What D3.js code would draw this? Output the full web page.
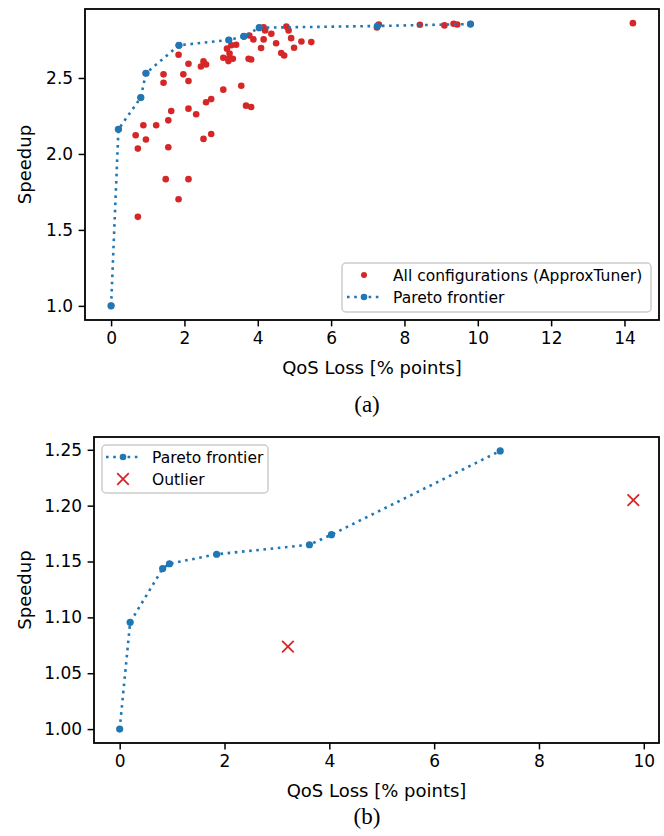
<!DOCTYPE html>
<html>
<head>
<meta charset="utf-8">
<script src="https://cdn.jsdelivr.net/npm/d3@7"></script>
<style>
  body { margin: 0; background: #fff; }
  svg { display: block; }
  .tick text { font-family: 'DejaVu Sans', sans-serif; font-size: 17px; fill: #000; }
  .tick line { stroke: #000; stroke-width: 1.5; }
</style>
</head>
<body>
<svg id="chart"></svg>
<script>
// (a) all configurations
const allLoss = [0, 0.20, 0.67, 0.73, 0.73, 0.88, 0.95, 1.23, 1.43, 1.43, 1.49, 1.56, 1.56, 1.64,
  1.84, 1.84, 1.97, 2.11, 2.11, 2.11, 2.11, 2.32, 2.45, 2.52, 2.52, 2.59, 2.59, 2.73, 2.73,
  3.06, 3.06, 3.16, 3.20, 3.20, 3.23, 3.32, 3.41, 3.28, 3.55, 3.68, 3.82, 3.77, 3.75, 3.82,
  3.88, 4.09, 4.16, 4.20, 4.16, 4.37, 4.50, 4.64, 4.72, 4.78, 4.84, 4.91, 4.99, 5.19, 5.46,
  7.30, 7.25, 8.42, 9.09, 9.34, 9.44, 14.23, 0.81, 0.95, 1.85, 3.21, 3.62, 4.04, 9.80];
const allSpeedup = [1.0, 2.162, 2.123, 2.035, 1.586, 2.189, 2.095, 2.189, 2.524, 2.469, 1.834, 2.221, 2.044, 2.283,
  2.653, 1.702, 2.524, 2.594, 2.480, 2.298, 1.834, 2.261, 2.576, 2.609, 2.099, 2.589, 2.340, 2.361, 2.131,
  2.633, 2.423, 2.693, 2.627, 2.611, 2.660, 2.627, 2.719, 2.715, 2.449, 2.318, 2.309, 2.780, 2.627, 2.622,
  2.754, 2.697, 2.834, 2.813, 2.754, 2.791, 2.729, 2.664, 2.648, 2.839, 2.813, 2.762, 2.699, 2.740, 2.736,
  2.852, 2.832, 2.850, 2.846, 2.857, 2.852, 2.861, 2.371, 2.531, 2.715, 2.750, 2.774, 2.831, 2.855];

// (a) pareto frontier
const paretoLoss = [0, 0.20, 0.81, 0.95, 1.85, 3.21, 3.62, 4.04, 7.26, 9.80];
const paretoSpeedup = [1.0, 2.162, 2.371, 2.531, 2.715, 2.750, 2.774, 2.831, 2.842, 2.855];

// (b) pareto frontier and outliers
const paretoLossB = [0, 0.20, 0.82, 0.95, 1.85, 3.62, 4.04, 7.26];
const paretoSpeedupB = [1.0, 1.0956, 1.1437, 1.148, 1.1565, 1.165, 1.174, 1.249];
const outlierLoss = [3.21, 9.80];
const outlierSpeedup = [1.0738, 1.205];

const xTicksA = [0, 2, 4, 6, 8, 10, 12, 14];
const yTicksA = [1.0, 1.5, 2.0, 2.5];
const xTicksB = [0, 2, 4, 6, 8, 10];
const yTicksB = [1.00, 1.05, 1.10, 1.15, 1.20, 1.25];

const width = 664;
const height = 836;
const red = '#d62728';
const blue = '#1f77b4';
const font = "'DejaVu Sans', sans-serif";

const svg = d3.select('#chart').attr('width', width).attr('height', height);

const drawPanel = (box, xDomain, yDomain, xTicks, yTicks, yFmt, caption, captionY) => {
  const x = d3.scaleLinear().domain(xDomain).range([box.left, box.right]);
  const y = d3.scaleLinear().domain(yDomain).range([box.bottom, box.top]);
  const g = svg.append('g');

  g.append('g')
    .attr('transform', 'translate(0,' + box.bottom + ')')
    .call(d3.axisBottom(x).tickValues(xTicks).tickFormat(d3.format('d')).tickSize(6.4).tickPadding(5.5))
    .call((a) => a.select('.domain').remove());

  g.append('g')
    .attr('transform', 'translate(' + box.left + ',0)')
    .call(d3.axisLeft(y).tickValues(yTicks).tickFormat(d3.format(yFmt)).tickSize(6.4).tickPadding(5.5))
    .call((a) => a.select('.domain').remove());

  g.selectAll('.tick text').attr('font-family', null).attr('font-size', null);

  g.append('text')
    .attr('x', (box.left + box.right) / 2)
    .attr('y', box.bottom + 54)
    .attr('text-anchor', 'middle')
    .style('font-family', font)
    .style('font-size', '18px')
    .text('QoS Loss [% points]');

  g.append('text')
    .attr('transform', 'translate(31,' + (box.top + box.bottom) / 2 + ') rotate(-90)')
    .attr('text-anchor', 'middle')
    .style('font-family', font)
    .style('font-size', '18px')
    .text('Speedup');

  g.append('text')
    .attr('x', 367)
    .attr('y', captionY)
    .attr('text-anchor', 'middle')
    .style('font-family', "'Liberation Serif', serif")
    .style('font-size', '23px')
    .text(caption);

  return { x, y, g };
};

const dotted = (g, x, y, xs, ys) => {
  const line = d3.line().x((d) => x(xs[d])).y((d) => y(ys[d]));
  g.append('path')
    .attr('d', line(d3.range(xs.length)))
    .attr('fill', 'none')
    .attr('stroke', blue)
    .attr('stroke-width', 2.6)
    .attr('stroke-dasharray', '2.6 4.6');
  g.selectAll('circle.pareto')
    .data(d3.range(xs.length))
    .enter()
    .append('circle')
    .attr('class', 'pareto')
    .attr('cx', (i) => x(xs[i]))
    .attr('cy', (i) => y(ys[i]))
    .attr('r', 3.6)
    .attr('fill', blue);
};

const frame = (g, box) => {
  g.append('rect')
    .attr('x', box.left)
    .attr('y', box.top)
    .attr('width', box.right - box.left)
    .attr('height', box.bottom - box.top)
    .attr('fill', 'none')
    .attr('stroke', '#000')
    .attr('stroke-width', 1.8);
};

const legendBox = (g, x0, y0, w, h) => {
  g.append('rect')
    .attr('x', x0)
    .attr('y', y0)
    .attr('width', w)
    .attr('height', h)
    .attr('rx', 4)
    .attr('fill', 'rgba(255,255,255,0.8)')
    .attr('stroke', '#ccc')
    .attr('stroke-width', 1.5);
};

const legendLine = (g, x0, yy) => {
  g.append('line')
    .attr('x1', x0)
    .attr('x2', x0 + 34)
    .attr('y1', yy)
    .attr('y2', yy)
    .attr('stroke', blue)
    .attr('stroke-width', 2.6)
    .attr('stroke-dasharray', '2.6 4.6');
  g.append('circle').attr('cx', x0 + 17).attr('cy', yy).attr('r', 3.3).attr('fill', blue);
};

const legendText = (g, x0, yy, txt) => {
  g.append('text')
    .attr('x', x0)
    .attr('y', yy + 5.5)
    .style('font-family', font)
    .style('font-size', '15.5px')
    .text(txt);
};

// panel (a)
const boxA = { left: 85, right: 659, top: 9, bottom: 320 };
const pa = drawPanel(boxA, [-0.7115, 14.9415], [0.907, 2.954], xTicksA, yTicksA, '.1f', '(a)', 412);

pa.g.selectAll('circle.all')
  .data(d3.range(allLoss.length))
  .enter()
  .append('circle')
  .attr('class', 'all')
  .attr('cx', (i) => pa.x(allLoss[i]))
  .attr('cy', (i) => pa.y(allSpeedup[i]))
  .attr('r', 3.3)
  .attr('fill', red);

dotted(pa.g, pa.x, pa.y, paretoLoss, paretoSpeedup);
frame(pa.g, boxA);

legendBox(pa.g, 342, 263, 309, 49);
pa.g.append('circle').attr('cx', 364).attr('cy', 275).attr('r', 3).attr('fill', red);
legendText(pa.g, 393, 275, 'All configurations (ApproxTuner)');
legendLine(pa.g, 347, 297);
legendText(pa.g, 393, 297, 'Pareto frontier');

// panel (b)
const boxB = { left: 94, right: 659, top: 437, bottom: 743 };
const pb = drawPanel(boxB, [-0.49, 10.29], [0.98755, 1.26145], xTicksB, yTicksB, '.2f', '(b)', 824);

dotted(pb.g, pb.x, pb.y, paretoLossB, paretoSpeedupB);

const cross = (g, cx, cy, s) => {
  g.append('path')
    .attr('d', 'M' + (cx - s) + ',' + (cy - s) + 'L' + (cx + s) + ',' + (cy + s) +
      'M' + (cx - s) + ',' + (cy + s) + 'L' + (cx + s) + ',' + (cy - s))
    .attr('stroke', red)
    .attr('stroke-width', 1.8)
    .attr('fill', 'none');
};

outlierLoss.forEach((d, i) => cross(pb.g, pb.x(d), pb.y(outlierSpeedup[i]), 5.8));
frame(pb.g, boxB);

legendBox(pb.g, 102, 445, 166, 48);
legendLine(pb.g, 106, 457);
legendText(pb.g, 152, 457, 'Pareto frontier');
cross(pb.g, 123, 479, 5.8);
legendText(pb.g, 152, 479, 'Outlier');
</script>
</body>
</html>
